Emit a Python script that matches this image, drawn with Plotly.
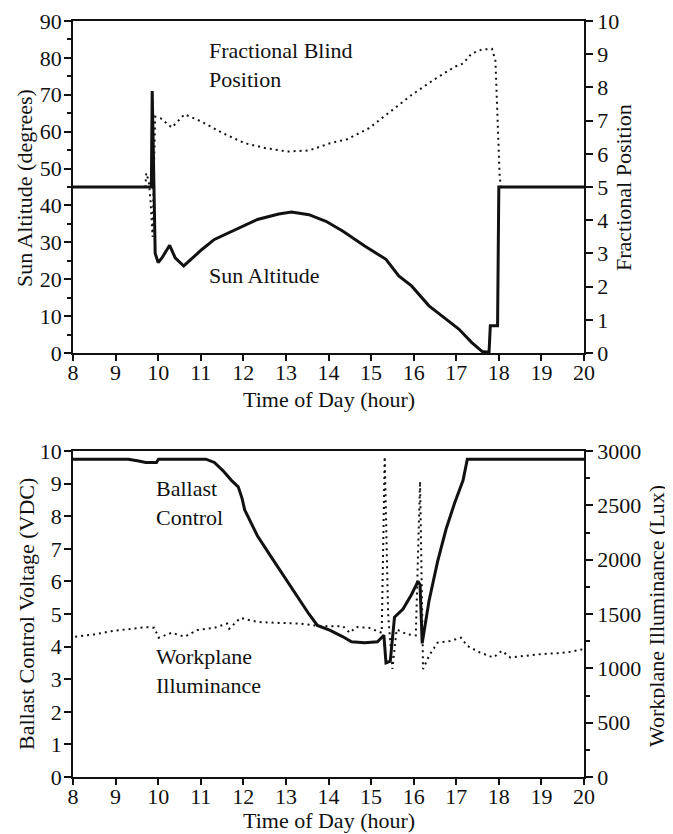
import plotly.graph_objects as go

# top panel: sun altitude (deg, left) and fractional blind position (right)
sun_t = [8.0, 9.84, 9.86, 9.88, 9.93, 10.0, 10.1, 10.27, 10.4, 10.6, 10.77, 11.02, 11.32,
         11.83, 12.33, 12.83, 13.13, 13.54, 13.94, 14.34, 14.85, 15.35, 15.65, 15.95,
         16.36, 16.76, 17.06, 17.36, 17.61, 17.77, 17.8, 17.87, 17.97, 18.0, 20.0]
sun_alt = [45, 45, 71, 60, 27, 24.5, 26, 29.2, 25.8, 23.6, 25.4, 28, 30.8,
           33.5, 36.2, 37.7, 38.2, 37.5, 35.7, 33, 29, 25.4, 20.9, 18.2,
           12.8, 9.2, 6.5, 2.9, 0.4, 0.2, 7.4, 7.4, 7.4, 45, 45]

blind_t = [8.0, 9.7, 9.72, 9.78, 9.82, 9.87, 9.9, 9.93, 10.06, 10.32, 10.62, 11.02, 11.52,
           12.03, 12.53, 13.03, 13.54, 14.04, 14.44, 14.95, 15.45, 15.95, 16.46,
           16.96, 17.16, 17.36, 17.6, 17.84, 17.92, 18.02, 18.05, 20.0]
blind_pos = [5, 5, 5.42, 5.17, 4.6, 3.5, 5.5, 7.12, 7.07, 6.79, 7.19, 6.97, 6.62,
             6.32, 6.17, 6.07, 6.1, 6.32, 6.44, 6.77, 7.27, 7.77, 8.22,
             8.62, 8.72, 9.02, 9.14, 9.16, 8.8, 5.3, 5, 5]

# bottom panel: ballast control voltage (left) and workplane illuminance (right)
ballast_t = [8.0, 9.3, 9.51, 9.71, 9.96, 10.01, 11.12, 11.32, 11.52, 11.72, 11.88, 11.97, 12.03,
             12.33, 12.63, 12.93, 13.24, 13.54, 13.74, 14.04, 14.34, 14.54, 14.85,
             15.15, 15.3, 15.35, 15.45, 15.55, 15.75, 15.95, 16.1, 16.15, 16.2,
             16.25, 16.36, 16.56, 16.76, 16.96, 17.16, 17.26, 20.0]
ballast_v = [9.75, 9.75, 9.7, 9.65, 9.65, 9.75, 9.75, 9.65, 9.4, 9.1, 8.9, 8.55, 8.2,
             7.4, 6.8, 6.2, 5.6, 5.0, 4.65, 4.5, 4.3, 4.15, 4.12,
             4.15, 4.35, 3.5, 3.55, 4.9, 5.15, 5.6, 6.0, 5.9, 4.1,
             4.5, 5.4, 6.6, 7.6, 8.4, 9.1, 9.75, 9.75]

illum_t = [8.05, 8.5, 8.9, 9.31, 9.71, 9.91, 10.01, 10.32, 10.62, 10.92, 11.32, 11.62,
           11.67, 11.93, 12.33, 12.83, 13.34, 13.84, 14.34, 14.5, 14.65, 14.95, 15.25,
           15.32, 15.4, 15.5, 15.6, 15.85, 16.05, 16.15, 16.22, 16.36, 16.56, 16.86,
           17.11, 17.26, 17.56, 17.87, 18.07, 18.27, 18.57, 18.97, 19.38, 19.68, 19.98]
illum_lux = [1291, 1312, 1342, 1364, 1379, 1373, 1282, 1327, 1291, 1352, 1373, 1412,
             1364, 1464, 1427, 1418, 1412, 1388, 1388, 1327, 1380, 1373, 1327,
             2948, 1500, 994, 1358, 1312, 1303, 2721, 994, 1115, 1236, 1252,
             1282, 1206, 1145, 1100, 1161, 1100, 1115, 1130, 1139, 1152, 1176]

FONT = "Liberation Serif"
BLACK = "#111111"

fig = go.Figure()
fig.add_trace(go.Scatter(x=sun_t, y=sun_alt, mode="lines", xaxis="x", yaxis="y",
                         line=dict(color=BLACK, width=3)))
fig.add_trace(go.Scatter(x=blind_t, y=blind_pos, mode="lines", xaxis="x", yaxis="y2",
                         line=dict(color=BLACK, width=2, dash="2px,4px")))
fig.add_trace(go.Scatter(x=ballast_t, y=ballast_v, mode="lines", xaxis="x2", yaxis="y3",
                         line=dict(color=BLACK, width=3)))
fig.add_trace(go.Scatter(x=illum_t, y=illum_lux, mode="lines", xaxis="x2", yaxis="y4",
                         line=dict(color=BLACK, width=2, dash="2px,4px")))

ax = dict(showline=True, linecolor=BLACK, linewidth=1.5, ticks="outside", ticklen=7,
          tickwidth=1.5, tickcolor=BLACK, showgrid=False, zeroline=False, automargin=False,
          tickfont=dict(family=FONT, size=22, color=BLACK))
xax = dict(ax, domain=[0, 1], range=[8, 20], dtick=1, mirror=True, ticklen=6,
           ticklabelstandoff=-7)

# page body adds an 8px offset, so the figure is drawn 8px smaller
fig.update_layout(
    width=665, height=826, showlegend=False,
    paper_bgcolor="white", plot_bgcolor="white",
    margin=dict(l=65, r=89, t=13, b=57),
    xaxis=dict(xax, anchor="y"),
    yaxis=dict(ax, domain=[0.5608, 1], anchor="x", range=[0, 90], dtick=10,
               ticklabelstandoff=-2,
               minor=dict(dtick=5, ticklen=4, ticks="outside", tickcolor=BLACK)),
    yaxis2=dict(ax, overlaying="y", side="right", anchor="x", range=[0, 10], dtick=1),
    xaxis2=dict(xax, anchor="y3"),
    yaxis3=dict(ax, domain=[0, 0.4312], anchor="x2", range=[0, 10], dtick=1,
                ticklabelstandoff=-2),
    yaxis4=dict(ax, overlaying="y3", side="right", anchor="x2", range=[0, 3000], dtick=500,
                minor=dict(dtick=250, ticklen=4, ticks="outside", tickcolor=BLACK)),
)

tfont = dict(family=FONT, size=22, color=BLACK)
titles = [
    ("Sun Altitude (degrees)", -0.0959, 0.779, -90),
    ("Fractional Position", 1.0763, 0.7804, -90),
    ("Time of Day (hour)", 0.5, 0.4987, 0),
    ("Ballast Control Voltage (VDC)", -0.092, 0.2156, -90),
    ("Workplane Illuminance (Lux)", 1.1429, 0.213, -90),
    ("Time of Day (hour)", 0.5, -0.0569, 0),
]
for txt, px_, py_, ang in titles:
    fig.add_annotation(text=txt, x=px_, y=py_, xref="paper", yref="paper", showarrow=False,
                       xanchor="center", yanchor="middle", textangle=ang, font=tfont)

lab = dict(showarrow=False, xanchor="left", yanchor="middle", align="left", font=tfont)
fig.add_annotation(lab, x=11.15, y=78, xref="x", yref="y", text="Fractional Blind<br>Position")
fig.add_annotation(lab, x=11.15, y=21.1, xref="x", yref="y", text="Sun Altitude")
fig.add_annotation(lab, x=9.9, y=8.42, xref="x2", yref="y3", text="Ballast<br>Control")
fig.add_annotation(lab, x=9.9, y=3.24, xref="x2", yref="y3", text="Workplane<br>Illuminance")

fig.write_html("out.html")
